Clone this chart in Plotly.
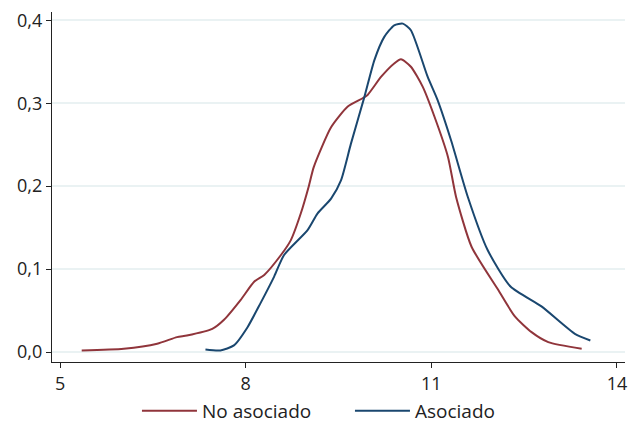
import plotly.graph_objects as go

# Kernel density estimates
no_asoc_x = [5.35, 6.03, 6.57, 6.89, 7.05, 7.46, 7.65, 7.92, 8.14, 8.30, 8.57, 8.73, 8.89,
             9.02, 9.10, 9.38, 9.65, 9.89, 9.97, 10.19, 10.40, 10.51, 10.67, 10.86, 11.05,
             11.27, 11.40, 11.65, 12.08, 12.35, 12.62, 12.89, 13.43]
no_asoc_y = [0.002, 0.004, 0.010, 0.018, 0.020, 0.028, 0.039, 0.063, 0.085, 0.093, 0.117,
             0.135, 0.167, 0.200, 0.223, 0.271, 0.296, 0.306, 0.310, 0.332, 0.348, 0.353,
             0.344, 0.320, 0.284, 0.235, 0.187, 0.127, 0.075, 0.043, 0.024, 0.012, 0.004]

asoc_x = [7.35, 7.59, 7.81, 8.03, 8.24, 8.46, 8.62, 9.00, 9.16, 9.38, 9.54, 9.70, 9.92,
          10.08, 10.24, 10.40, 10.54, 10.67, 10.94, 11.10, 11.32, 11.59, 11.91, 12.28,
          12.78, 13.32, 13.57]
asoc_y = [0.003, 0.002, 0.008, 0.030, 0.059, 0.091, 0.117, 0.147, 0.167, 0.185, 0.207,
          0.251, 0.308, 0.352, 0.380, 0.394, 0.396, 0.388, 0.332, 0.304, 0.255, 0.187,
          0.123, 0.079, 0.055, 0.022, 0.014]

x_ticks = [5, 8, 11, 14]
y_ticks = [0.0, 0.1, 0.2, 0.3, 0.4]
y_tick_labels = ["0,0", "0,1", "0,2", "0,3", "0,4"]

RED = "#90353B"
BLUE = "#1A476F"

fig = go.Figure()
fig.add_trace(go.Scatter(x=no_asoc_x, y=no_asoc_y, mode="lines", name="No asociado",
                         line=dict(color=RED, width=2, shape="spline", smoothing=0.6)))
fig.add_trace(go.Scatter(x=asoc_x, y=asoc_y, mode="lines", name="Asociado",
                         line=dict(color=BLUE, width=2, shape="spline", smoothing=0.6)))

fig.update_layout(
    width=639, height=427,
    margin=dict(l=52, r=14, t=12, b=65, autoexpand=False),
    paper_bgcolor="white", plot_bgcolor="white",
    font=dict(family="Open Sans", size=18, color="#222222"),
    showlegend=True,
    legend=dict(orientation="h", xref="paper", yref="paper",
                x=0.52, xanchor="center", y=-0.14, yanchor="middle",
                font=dict(size=19), itemwidth=55, entrywidth=143,
                traceorder="normal"),
    xaxis=dict(range=[4.87, 14.13], tickvals=x_ticks, showgrid=False, zeroline=False,
               showline=True, linecolor="#222222", linewidth=1.2, automargin=False,
               ticks="outside", ticklen=5, tickcolor="#222222"),
    yaxis=dict(range=[-0.012, 0.41], tickvals=y_ticks, ticktext=y_tick_labels,
               showgrid=True, gridcolor="#EAF2F3", gridwidth=1.5, zeroline=False,
               showline=True, linecolor="#222222", linewidth=1.2, automargin=False,
               ticks="outside", ticklen=5, tickcolor="#222222"),
)

fig.write_html("out.html")
